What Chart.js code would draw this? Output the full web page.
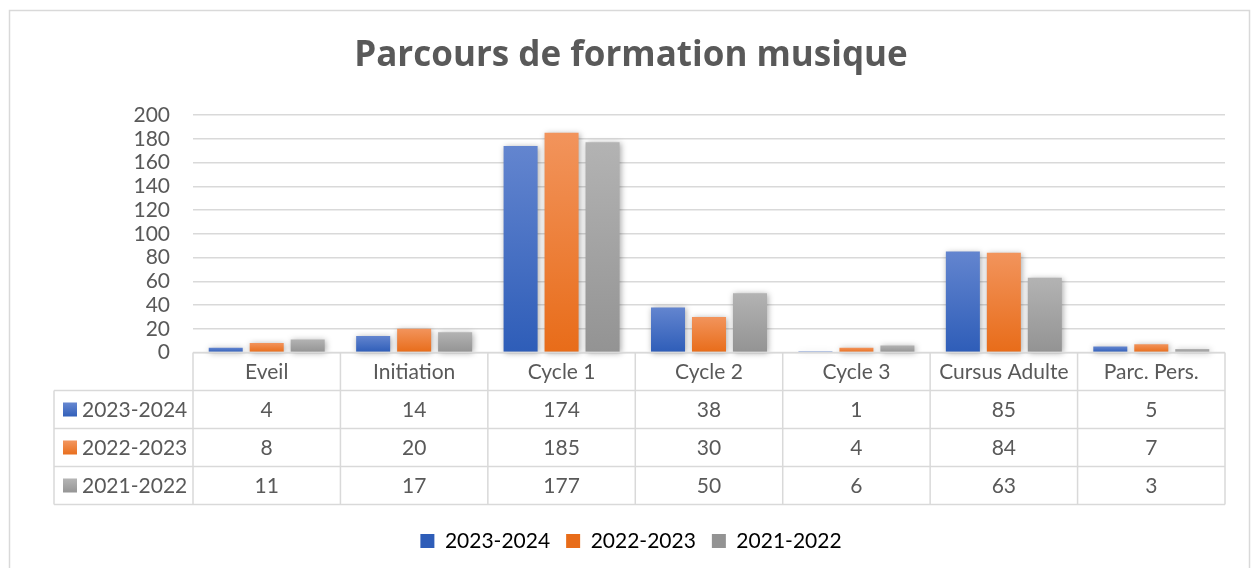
<!DOCTYPE html>
<html>
<head>
<meta charset="utf-8">
<script src="https://cdn.jsdelivr.net/npm/chart.js@4.4.0/dist/chart.umd.min.js"></script>
<style>
  body { margin: 0; background: #fff; }
  #wrap { width: 1252px; height: 568px; }
</style>
</head>
<body>
<div id="wrap"><canvas id="chart" width="1252" height="568"></canvas></div>
<script>
var categories = ['Eveil', 'Initiation', 'Cycle 1', 'Cycle 2', 'Cycle 3', 'Cursus Adulte', 'Parc. Pers.'];
var seriesNames = ['2023-2024', '2022-2023', '2021-2022'];
var values2324 = [4, 14, 174, 38, 1, 85, 5];
var values2223 = [8, 20, 185, 30, 4, 84, 7];
var values2122 = [11, 17, 177, 50, 6, 63, 3];
var yMin = 0, yMax = 200, yStep = 20;

var TEXT = '#595959';
var LINE = '#d9d9d9';
var FONT = 'Lato';
var ROW_H = 38;

// top / bottom colours of the Excel-style gradient
var shades = [
    ['#6385cf', '#2e5db8'],
    ['#f2945c', '#e86c19'],
    ['#b3b3b3', '#939393']
];

function barFill(top, bottom) {
    return function (ctx) {
        var chart = ctx.chart;
        if (ctx.type !== 'data' || !chart.chartArea) return bottom;
        var y = chart.scales.y;
        var y0 = y.getPixelForValue(ctx.raw);
        var y1 = y.getPixelForValue(0);
        if (!isFinite(y0) || y1 - y0 < 1) return bottom;
        var g = chart.ctx.createLinearGradient(0, y0, 0, y1);
        g.addColorStop(0, top);
        g.addColorStop(1, bottom);
        return g;
    };
}

var frame = {
    id: 'frame',
    beforeDraw: function (chart) {
        var c = chart.ctx;
        c.save();
        c.fillStyle = '#fff';
        c.fillRect(0, 0, chart.width, chart.height);
        c.strokeStyle = LINE;
        c.lineWidth = 1.5;
        c.strokeRect(9.5, 10.5, 1240, 600);
        c.restore();
    }
};

var shadow = {
    id: 'shadow',
    beforeDatasetsDraw: function (chart) {
        var c = chart.ctx;
        c.save();
        c.shadowColor = 'rgba(0,0,0,0.35)';
        c.shadowBlur = 6;
        c.shadowOffsetX = 1;
        c.shadowOffsetY = 1;
    },
    afterDatasetsDraw: function (chart) {
        chart.ctx.restore();
    }
};

var dataTable = {
    id: 'dataTable',
    afterDraw: function (chart) {
        var c = chart.ctx;
        var x = chart.scales.x;
        var top = x.top;
        var left = x.left, right = x.right;
        var colW = (right - left) / categories.length;
        var tableLeft = 54;
        var nRows = chart.data.datasets.length;
        var bottom = top + ROW_H * (nRows + 1);

        c.save();
        c.strokeStyle = LINE;
        c.lineWidth = 1.5;
        c.beginPath();
        c.moveTo(left, top); c.lineTo(right, top);
        for (var r = 1; r <= nRows + 1; r++) {
            c.moveTo(tableLeft, top + r * ROW_H);
            c.lineTo(right, top + r * ROW_H);
        }
        for (var i = 0; i <= categories.length; i++) {
            c.moveTo(left + i * colW, top);
            c.lineTo(left + i * colW, bottom);
        }
        c.moveTo(tableLeft, top + ROW_H); c.lineTo(tableLeft, bottom);
        c.stroke();

        c.fillStyle = TEXT;
        c.font = '21px ' + FONT;
        c.textBaseline = 'middle';
        c.textAlign = 'center';
        categories.forEach(function (name, i) {
            c.fillText(name, x.getPixelForValue(i), top + ROW_H / 2 + 1);
        });

        chart.data.datasets.forEach(function (ds, r) {
            var cy = top + (r + 1.5) * ROW_H + 1;
            var g = c.createLinearGradient(0, cy - 7, 0, cy + 7);
            g.addColorStop(0, shades[r][0]);
            g.addColorStop(1, shades[r][1]);
            c.fillStyle = g;
            c.fillRect(63, cy - 8, 14, 14);
            c.fillStyle = TEXT;
            c.textAlign = 'left';
            c.fillText(ds.label, 82, cy);
            c.textAlign = 'center';
            ds.data.forEach(function (v, i) {
                c.fillText(String(v), x.getPixelForValue(i), cy);
            });
        });
        c.restore();
    }
};

function makeSet(label, data, k) {
    return {
        label: label,
        data: data,
        backgroundColor: barFill(shades[k][0], shades[k][1]),
        borderWidth: 0,
        clip: false,
        categoryPercentage: 0.834,
        barPercentage: 0.83
    };
}

new Chart(document.getElementById('chart').getContext('2d'), {
    type: 'bar',
    data: {
        labels: categories,
        datasets: [
            makeSet(seriesNames[0], values2324, 0),
            makeSet(seriesNames[1], values2223, 1),
            makeSet(seriesNames[2], values2122, 2)
        ]
    },
    options: {
        responsive: false,
        animation: false,
        layout: { padding: { left: 37, right: 27, top: 0, bottom: 6.5 } },
        plugins: {
            title: {
                display: true,
                text: 'Parcours de formation musique',
                color: TEXT,
                font: { family: 'Open Sans', size: 35, weight: 'bold' },
                padding: { top: 35, bottom: 38 }
            },
            legend: {
                position: 'bottom',
                labels: {
                    color: TEXT,
                    font: { family: FONT, size: 21 },
                    boxWidth: 14,
                    boxHeight: 14,
                    padding: 16,
                    generateLabels: function (chart) {
                        return chart.data.datasets.map(function (ds, i) {
                            return {
                                text: ds.label,
                                fillStyle: shades[i][1],
                                strokeStyle: shades[i][1],
                                lineWidth: 0,
                                datasetIndex: i
                            };
                        });
                    }
                }
            },
            tooltip: { enabled: false }
        },
        scales: {
            x: {
                grid: { display: false },
                border: { display: false },
                ticks: { display: false },
                afterFit: function (scale) { scale.height = 162; }
            },
            y: {
                min: yMin,
                max: yMax,
                ticks: {
                    stepSize: yStep,
                    autoSkip: false,
                    color: TEXT,
                    font: { family: FONT, size: 21 },
                    padding: 23
                },
                grid: { color: LINE, lineWidth: 1.5, drawTicks: false },
                border: { display: false },
                afterFit: function (scale) { scale.width = 156; }
            }
        }
    },
    plugins: [frame, shadow, dataTable]
});
</script>
</body>
</html>
